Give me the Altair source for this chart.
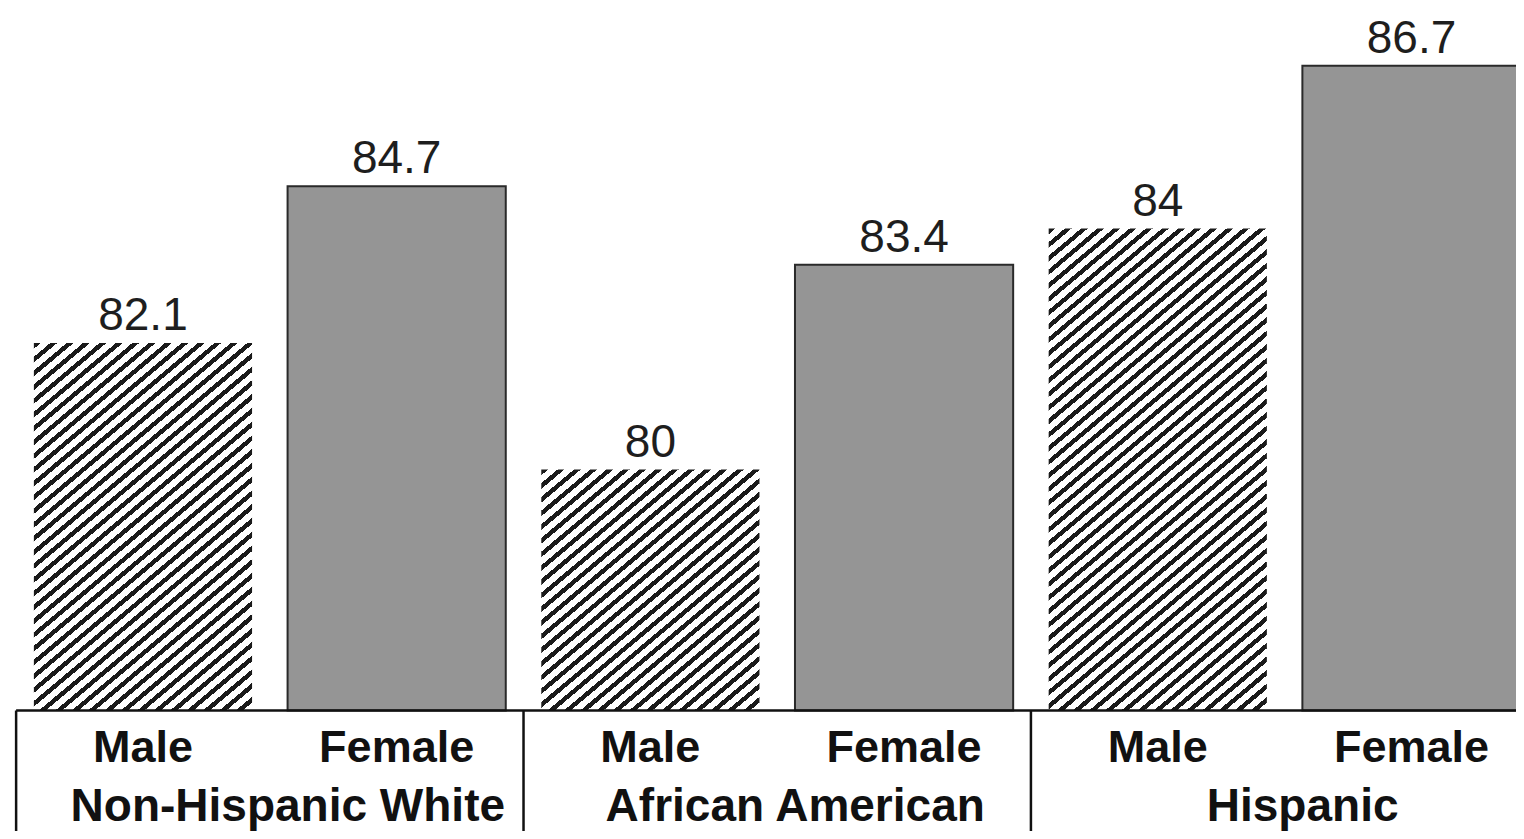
import math
import altair as alt
import pandas as pd

# ---- data ----
groups = ["Non-Hispanic White", "African American", "Hispanic"]
sexes = ["Male", "Female"]
values = [82.1, 84.7, 80.0, 83.4, 84.0, 86.7]   # Male/Female per group, in order

rows = []
for g, grp in enumerate(groups):
    for s, sex in enumerate(sexes):
        i = 2 * g + s
        rows.append({"idx": i, "group": grp, "sex": sex, "value": values[i]})
df = pd.DataFrame(rows)
gdf = pd.DataFrame({"group": groups, "g": list(range(len(groups)))})

# ---- layout ----
W, H = 1508, 823
XDOM = [-0.532, 5.412]
YDOM = [74.0, 87.66]
BASE = 76.0
HALF = 0.43
FONT = "Liberation Sans"

xs = alt.Scale(domain=XDOM, nice=False, zero=False)
ys = alt.Scale(domain=YDOM, nice=False, zero=False)
X = lambda f: alt.X(f, type="quantitative", scale=xs, axis=None)
Y = lambda f: alt.Y(f, type="quantitative", scale=ys, axis=None)

base = alt.Chart(df).transform_calculate(
    x0=f"datum.idx - {HALF}", x1=f"datum.idx + {HALF}", base=f"{BASE}"
)

# hatched fill for the male bars (diagonal stripes via hard-stop gradient)
px_x = W / (XDOM[1] - XDOM[0])
px_y = H / (YDOM[1] - YDOM[0])
theta = math.radians(40)
period = 10.5


def hatch(v):
    w = 2 * HALF * px_x
    h = (v - BASE) * px_y
    tw, th = w * math.sin(theta), h * math.cos(theta)
    tot = tw + th
    a, b = tw / tot, th / tot
    n2 = a * a + b * b
    n = max(1, round(tot / period))
    stops = []
    for k in range(n):
        o0 = k / n
        o1 = (k + 0.42) / n
        o2 = (k + 1) / n
        stops += [
            {"offset": o0, "color": "#1a1a1a"},
            {"offset": o1, "color": "#1a1a1a"},
            {"offset": o1, "color": "#ffffff"},
            {"offset": o2, "color": "#ffffff"},
        ]
    return {"gradient": "linear", "x1": 0, "y1": 0,
            "x2": a / n2, "y2": b / n2, "stops": stops}


layers = []
for i, v in enumerate(values):
    if i % 2 == 0:
        layers.append(
            base.transform_filter(f"datum.idx == {i}")
            .mark_bar(fill=hatch(v), stroke=None)
            .encode(x=X("x0"), x2="x1", y=Y("value"), y2="base")
        )

female = (
    base.transform_filter("datum.idx % 2 == 1")
    .mark_bar(fill="#959595", stroke="#2a2a2a", strokeWidth=2)
    .encode(x=X("x0"), x2="x1", y=Y("value"), y2="base")
)
layers.append(female)

vals = base.mark_text(
    font=FONT, fontSize=46, baseline="alphabetic", dy=-13, color="#1e1e1e"
).encode(x=X("idx"), y=Y("value"), text=alt.Text("value:Q", format="~r"))

sex_lbl = base.transform_calculate(ly="75.137").mark_text(
    font=FONT, fontSize=45, fontWeight="bold", baseline="alphabetic", color="#111"
).encode(x=X("idx"), y=Y("ly"), text="sex:N")

grp_lbl = alt.Chart(gdf).transform_calculate(
    gx="2 * datum.g + 0.5", ly="74.16"
).mark_text(
    font=FONT, fontSize=46, fontWeight="bold", baseline="alphabetic", dx=18, color="#111"
).encode(x=X("gx"), y=Y("ly"), text="group:N")

seps = alt.Chart(gdf).transform_calculate(
    sx="2 * datum.g - 0.5", top=f"{BASE}", bot=f"{YDOM[0]}"
).mark_rule(color="#111", strokeWidth=2.5).encode(x=X("sx"), y=Y("top"), y2="bot")

hline = alt.Chart(gdf).transform_filter("datum.g == 0").transform_calculate(
    hx0="-0.5", hx1=f"{XDOM[1]}", hy=f"{BASE}"
).mark_rule(color="#111", strokeWidth=2.5).encode(x=X("hx0"), x2="hx1", y=Y("hy"))

chart = (
    alt.layer(*layers, vals, sex_lbl, grp_lbl, seps, hline)
    .properties(width=W, height=H, padding=0, background="white",
                autosize=alt.AutoSizeParams(type="none"))
    .configure_view(stroke=None)
)

chart.save("out.html", embed_options={"renderer": "svg", "actions": False})
